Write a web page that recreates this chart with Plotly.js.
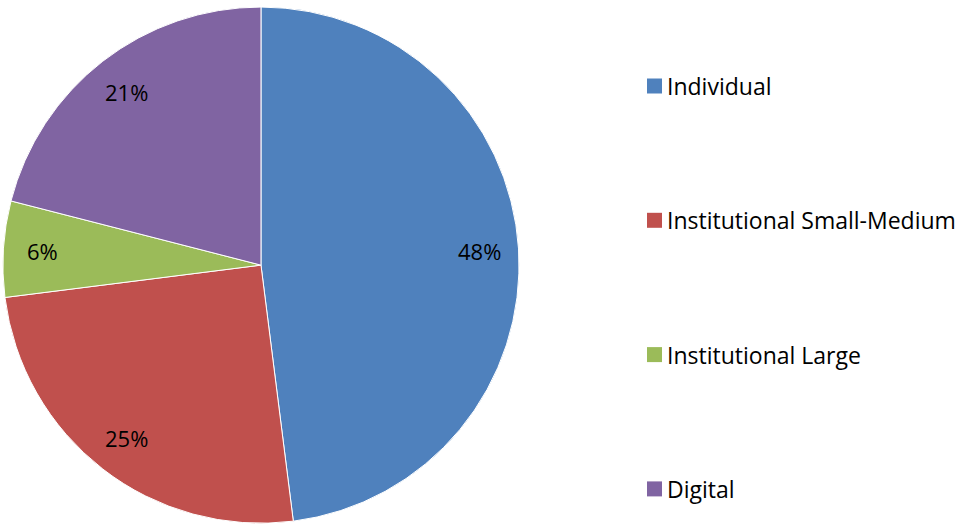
<!DOCTYPE html>
<html>
<head>
<meta charset="utf-8">
<script src="https://cdn.plot.ly/plotly-3.0.1.min.js"></script>
<style>html,body{margin:0;padding:0;background:#fff;}#chart{width:963px;height:525px;}</style>
</head>
<body>
<div id="chart"></div>
<script>
const labels = ["Individual", "Institutional Small-Medium", "Institutional Large", "Digital"];
const values = [48, 25, 6, 21];
const colors = ["#4F81BD", "#C0504D", "#9BBB59", "#8064A2"];

const W = 963, H = 525;
const domX = [0.003, 0.539], domY = [0, 0.99];
const FONT = "'Open Sans', Lato, sans-serif";

const trace = {
  type: "pie",
  labels: labels,
  values: values,
  sort: false,
  direction: "clockwise",
  rotation: 0,
  marker: {colors: colors, line: {color: "#ffffff", width: 1}},
  textinfo: "none",
  hoverinfo: "label+percent",
  showlegend: false,
  domain: {x: domX, y: domY}
};

// label positions derived from the slice angles
const total = values.reduce((a, b) => a + b, 0);
const cxPx = W * (domX[0] + domX[1]) / 2;
const cyPx = H * (1 - (domY[0] + domY[1]) / 2);
const R = Math.min(W * (domX[1] - domX[0]), H * (domY[1] - domY[0])) / 2;
const annotations = [];
let cum = 0;
values.forEach((v, i) => {
  const mid = (cum + v / 2) / total * 2 * Math.PI;
  cum += v;
  const rf = 0.85;
  const x = cxPx + rf * R * Math.sin(mid);
  const y = cyPx - rf * R * Math.cos(mid);
  annotations.push({
    xref: "paper", yref: "paper", x: x / W, y: 1 - y / H,
    text: Math.round(v / total * 100) + "%", showarrow: false,
    font: {family: FONT, size: 22, color: "#000000"},
    xanchor: "center", yanchor: "middle"
  });
});

// legend built from labels/colors
const legendTop = 86, legendStep = 134.3;
const shapes = [];
labels.forEach((lab, i) => {
  const yc = legendTop + i * legendStep;
  shapes.push({
    type: "rect", xref: "paper", yref: "paper",
    x0: 647 / W, x1: 662 / W, y0: 1 - (yc + 7.5) / H, y1: 1 - (yc - 7.5) / H,
    fillcolor: colors[i], line: {width: 0}
  });
  annotations.push({
    xref: "paper", yref: "paper", x: 665 / W, y: 1 - yc / H,
    text: lab, showarrow: false, xanchor: "left", yanchor: "middle",
    font: {family: FONT, size: 23, color: "#000000"}
  });
});

const layout = {
  width: W, height: H,
  margin: {l: 0, r: 0, t: 0, b: 0},
  paper_bgcolor: "#ffffff",
  plot_bgcolor: "#ffffff",
  showlegend: false,
  annotations: annotations,
  shapes: shapes
};

Plotly.newPlot("chart", [trace], layout, {displayModeBar: false, staticPlot: true});
</script>
</body>
</html>
